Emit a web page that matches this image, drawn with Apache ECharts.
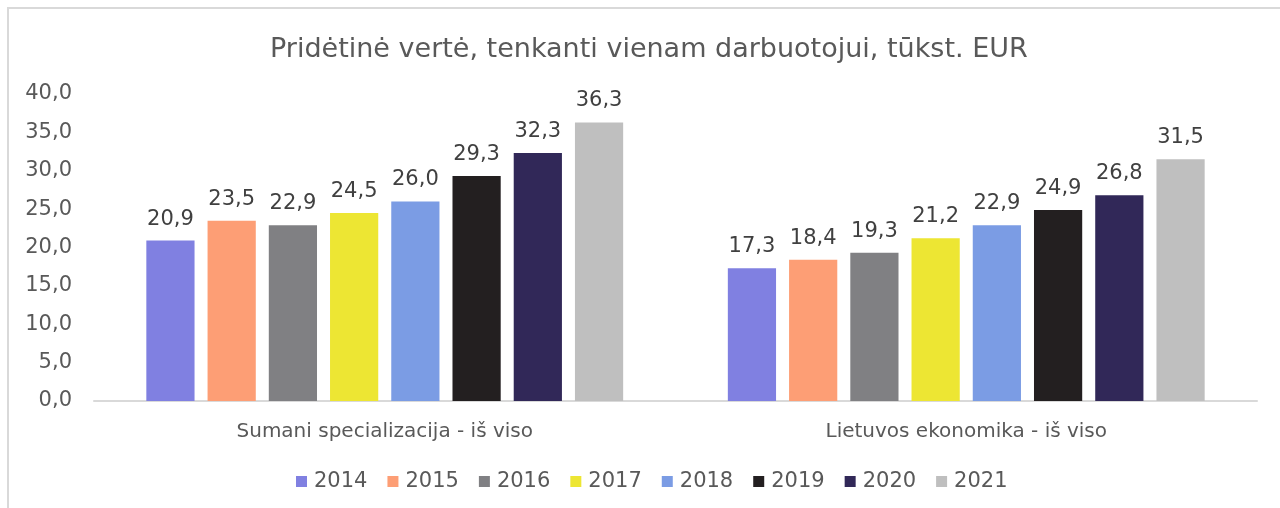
<!DOCTYPE html>
<html><head><meta charset="utf-8">
<script src="https://cdn.jsdelivr.net/npm/echarts@6/dist/echarts.min.js"></script>
<style>html,body{margin:0;padding:0;background:#fff;overflow:hidden}#c{width:1280px;height:508px}</style>
</head><body><div id="c"></div>
<script>
const categories = ['Sumani specializacija - iš viso', 'Lietuvos ekonomika - iš viso'];
const years = ['2014','2015','2016','2017','2018','2019','2020','2021'];
const values = {
  '2014': [20.9, 17.3],
  '2015': [23.5, 18.4],
  '2016': [22.9, 19.3],
  '2017': [24.5, 21.2],
  '2018': [26.0, 22.9],
  '2019': [29.3, 24.9],
  '2020': [32.3, 26.8],
  '2021': [36.3, 31.5]
};
const colors = ['#8080e1','#fd9e75','#808083','#ede633','#7b9ce4','#231f20','#312858','#bfbfbf'];
const title = 'Pridėtinė vertė, tenkanti vienam darbuotojui, tūkst. EUR';
const font = 'DejaVu Sans, Verdana, sans-serif';
const fmt = v => v.toFixed(1).replace('.', ',');

const chart = echarts.init(document.getElementById('c'));
chart.setOption({
  animation: false,
  color: colors,
  textStyle: {fontFamily: font},
  title: {text: title, left: 265, top: 31,
    textStyle: {fontFamily: font, fontSize: 27, fontWeight: 'normal', color: '#595959'}},
  graphic: [{type: 'rect', shape: {x: 8, y: 8, width: 3000, height: 3000},
    style: {fill: 'none', stroke: '#d9d9d9', lineWidth: 2}, silent: true}],
  grid: {left: 94, right: 23, top: 94, bottom: 107},
  legend: {top: 466, left: 291, itemWidth: 11, itemHeight: 11, itemGap: 20,
    icon: 'rect', data: years,
    textStyle: {fontFamily: font, fontSize: 21, color: '#595959', padding: [0, 0, 0, 2]}},
  xAxis: {type: 'category', data: categories,
    axisLine: {lineStyle: {color: '#d9d9d9', width: 2}}, axisTick: {show: false},
    axisLabel: {fontFamily: font, fontSize: 20, color: '#595959', margin: 21}},
  yAxis: {type: 'value', min: 0, max: 40, interval: 5,
    splitLine: {show: false}, axisLine: {show: false}, axisTick: {show: false},
    axisLabel: {fontFamily: font, fontSize: 21, color: '#595959', margin: 22, formatter: fmt}},
  series: years.map(y => ({
    name: y, type: 'bar', data: values[y], barGap: '27%', barCategoryGap: '18%',
    label: {show: true, position: 'top', distance: 11, formatter: p => fmt(p.value),
      fontFamily: font, fontSize: 21, color: '#404040'}
  }))
});
</script></body></html>
